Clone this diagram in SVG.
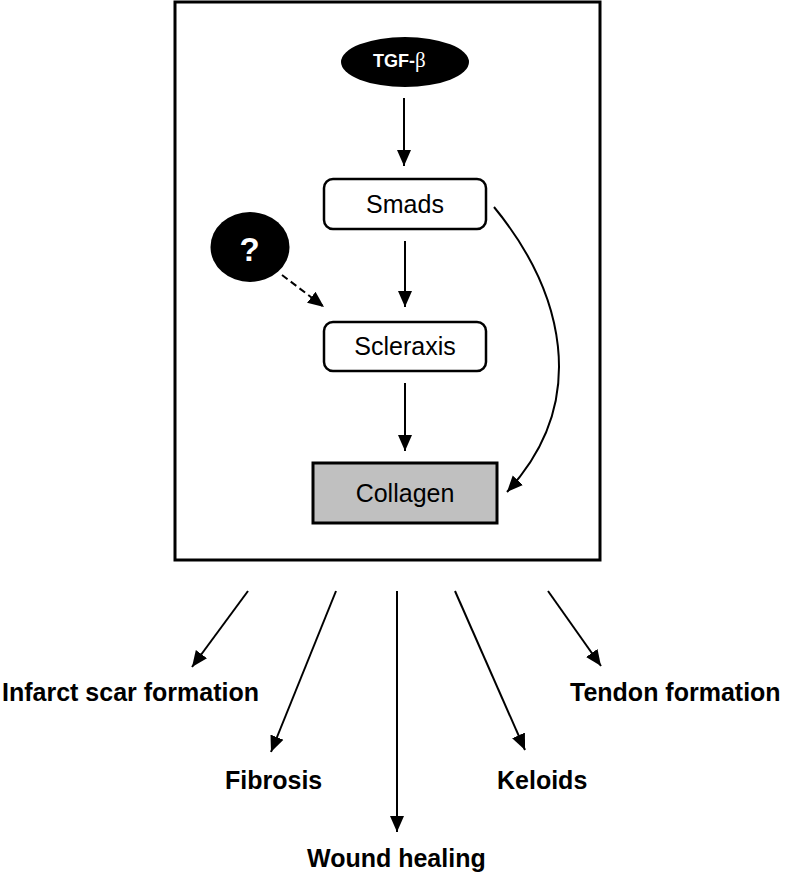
<svg xmlns="http://www.w3.org/2000/svg" width="785" height="872" viewBox="0 0 785 872">
<style>
.frame{fill:none;stroke:#000;stroke-width:3}
.box{fill:#fff;stroke:#000;stroke-width:2.5}
.lbl{font-family:"Liberation Sans",Arial,sans-serif;font-size:25px;fill:#000;text-anchor:middle}
.out{font-family:"Liberation Sans",Arial,sans-serif;font-size:25px;font-weight:bold;fill:#000}
.edge{fill:none;stroke:#000;stroke-width:2;marker-end:url(#ah)}
</style>
<defs>
<marker id="ah" markerUnits="userSpaceOnUse" markerWidth="17" markerHeight="15" refX="16" refY="7" orient="auto" viewBox="0 0 17 14">
<path d="M0,0 L16,7 L0,14 z" fill="#000"/>
</marker>
</defs>
<rect class="frame" x="175" y="2" width="425" height="558"/>
<g id="connectors">
<line class="edge" x1="404" y1="98" x2="404" y2="166"/>
<line class="edge" x1="405" y1="241" x2="405" y2="307"/>
<line class="edge" x1="405" y1="383" x2="405" y2="451"/>
<path class="edge" d="M494,207 C562,290 592,400 507,492"/>
<line class="edge" x1="282" y1="275" x2="324" y2="307" stroke-dasharray="7,4"/>
<line class="edge" x1="248" y1="591" x2="192" y2="667"/>
<line class="edge" x1="336" y1="591" x2="271" y2="752"/>
<line class="edge" x1="397" y1="591" x2="397" y2="832"/>
<line class="edge" x1="455" y1="591" x2="525" y2="750"/>
<line class="edge" x1="548" y1="591" x2="601" y2="666"/>
</g>
<g id="tgfb">
<ellipse cx="405" cy="62" rx="64" ry="25" fill="#000"/>
<text x="373" y="67" fill="#fff" font-family="Liberation Sans,Arial,sans-serif" font-size="18" font-weight="bold">TGF-<tspan font-family="Liberation Serif,serif" font-weight="normal" font-size="21">β</tspan></text>
</g>
<g id="smads">
<rect class="box" x="324" y="179" width="162" height="50" rx="9"/>
<text class="lbl" x="405" y="213">Smads</text>
</g>
<g id="unknown">
<ellipse cx="250" cy="247" rx="39.5" ry="35" fill="#000"/>
<text x="249.5" y="261" text-anchor="middle" fill="#fff" font-family="Liberation Sans,Arial,sans-serif" font-size="33" font-weight="bold">?</text>
</g>
<g id="scleraxis">
<rect class="box" x="324" y="322" width="162" height="49" rx="9"/>
<text class="lbl" x="405" y="355">Scleraxis</text>
</g>
<g id="collagen">
<rect x="313" y="463" width="184" height="60" fill="#c0c0c0" stroke="#000" stroke-width="3"/>
<text class="lbl" x="405" y="502">Collagen</text>
</g>
<g id="infarct"><text class="out" x="2" y="701">Infarct scar formation</text></g>
<g id="fibrosis"><text class="out" x="225" y="789">Fibrosis</text></g>
<g id="wound"><text class="out" x="307" y="867">Wound healing</text></g>
<g id="keloids"><text class="out" x="497" y="789">Keloids</text></g>
<g id="tendon"><text class="out" x="570" y="701">Tendon formation</text></g>
</svg>
